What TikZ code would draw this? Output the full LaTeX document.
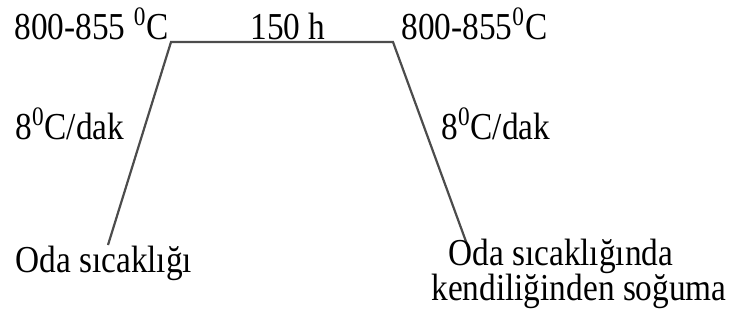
\documentclass[tikz,border=0pt]{standalone}
\usepackage{graphicx}
\usepackage{fontspec}
\setmainfont{Liberation Serif}
\usepackage{tikz}

\newcommand{\tallText}[1]{\scalebox{0.98}[1.12]{#1}}

\begin{document}
\begin{tikzpicture}[x=0.5pt, y=-0.5pt,
    lbl/.style={inner sep=0pt, anchor=base west, font=\fontsize{17}{20}\selectfont}]
    \useasboundingbox (0,0) rectangle (732,331);

    % Heating, holding and cooling curve
    \coordinate (start) at (108,245);
    \coordinate (hold1) at (171,42);
    \coordinate (hold2) at (393,42);
    \coordinate (end) at (468,247);
    \draw[line width=1.1pt, black!70] (start) -- (hold1) -- (hold2) -- (end);

    % Temperatures and time
    \node[lbl] (tempL) at (14,40) {\tallText{800-855 \textsuperscript{0}C}};
    \node[lbl] (time) at (250,40) {\tallText{150 h}};
    \node[lbl] (tempR) at (401,40) {\tallText{800-855\textsuperscript{0}C}};

    % Rates
    \node[lbl] (rateL) at (15,140) {\tallText{8\textsuperscript{0}C/dak}};
    \node[lbl] (rateR) at (441,140) {\tallText{8\textsuperscript{0}C/dak}};

    % Room temperature
    \node[lbl] (roomL) at (15,272) {\tallText{Oda sıcaklığı}};
    \node[lbl] (roomR) at (448,265) {\tallText{Oda sıcaklığında}};
    \node[lbl] (coolR) at (431,300) {\tallText{kendiliğinden soğuma}};
\end{tikzpicture}
\end{document}
